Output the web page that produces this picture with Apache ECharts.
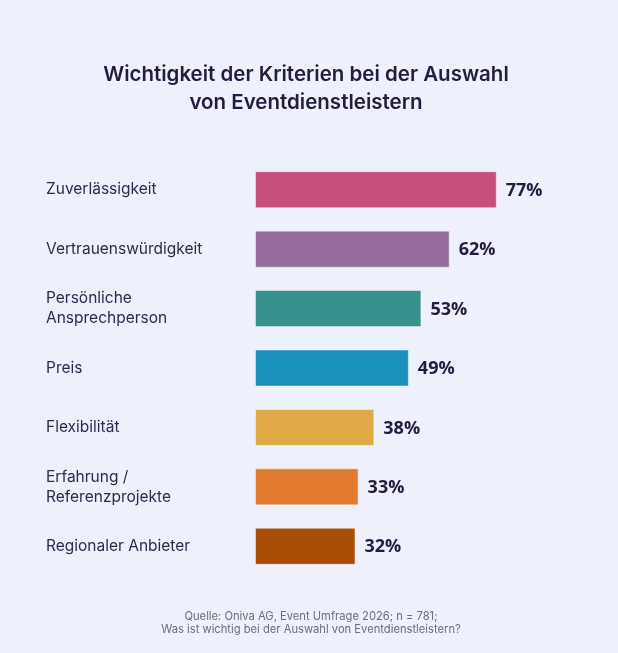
<!DOCTYPE html>
<html>
<head>
<meta charset="utf-8">
<script src="https://cdn.jsdelivr.net/npm/echarts@6/dist/echarts.min.js"></script>
<style>
html,body{margin:0;padding:0;background:#EEF0FC;}
#chart{width:618px;height:653px;}
</style>
</head>
<body>
<div id="chart"></div>
<script>
const categories = [
  "Zuverlässigkeit",
  "Vertrauenswürdigkeit",
  "Persönliche\nAnsprechperson",
  "Preis",
  "Flexibilität",
  "Erfahrung /\nReferenzprojekte",
  "Regionaler Anbieter"
];
const values = [77, 62, 53, 49, 38, 33, 32];
const colors = ["#C64F7E", "#956B9C", "#37918E", "#1B91BB", "#DFAA45", "#E37B2F", "#A84D06"];
const titleText = "Wichtigkeit der Kriterien bei der Auswahl\nvon Eventdienstleistern";
const sourceText = "Quelle: Oniva AG, Event Umfrage 2026; n = 781;\nWas ist wichtig bei der Auswahl von Eventdienstleistern?";

const chart = echarts.init(document.getElementById('chart'), null, {renderer: 'canvas'});
chart.setOption({
  backgroundColor: '#EEF0FC',
  animation: false,
  title: [
    {
      text: titleText,
      left: 301,
      top: 56,
      textAlign: 'center',
      textStyle: {
        fontFamily: 'Inter',
        fontSize: 20.5,
        fontWeight: 600,
        color: '#231C40',
        lineHeight: 28
      }
    },
    {
      text: sourceText,
      left: 306,
      top: 605,
      textAlign: 'center',
      textStyle: {
        fontFamily: 'Inter',
        fontSize: 11.2,
        fontWeight: 'normal',
        color: '#6E6A80',
        lineHeight: 13
      }
    }
  ],
  grid: {
    left: 255,
    top: 160,
    width: 314,
    height: 416,
    containLabel: false
  },
  xAxis: {
    type: 'value',
    min: 0,
    max: 100,
    show: false
  },
  yAxis: {
    type: 'category',
    data: categories,
    inverse: true,
    axisLine: {show: false},
    axisTick: {show: false},
    splitLine: {show: false},
    axisLabel: {
      align: 'left',
      margin: 209,
      fontFamily: 'Inter',
      fontSize: 15.5,
      color: '#2E2A4A',
      lineHeight: 20
    }
  },
  series: [{
    type: 'bar',
    data: values.map((v, i) => ({
      value: v,
      itemStyle: {color: colors[i]}
    })),
    barWidth: 37,
    itemStyle: {
      borderColor: 'rgba(255,255,255,0.45)',
      borderWidth: 1
    },
    label: {
      show: true,
      position: 'right',
      distance: 9,
      formatter: '{c}%',
      fontFamily: 'Open Sans',
      fontWeight: 'bold',
      fontSize: 18,
      color: '#231C40',
      offset: [0, 1]
    }
  }]
});
</script>
</body>
</html>
